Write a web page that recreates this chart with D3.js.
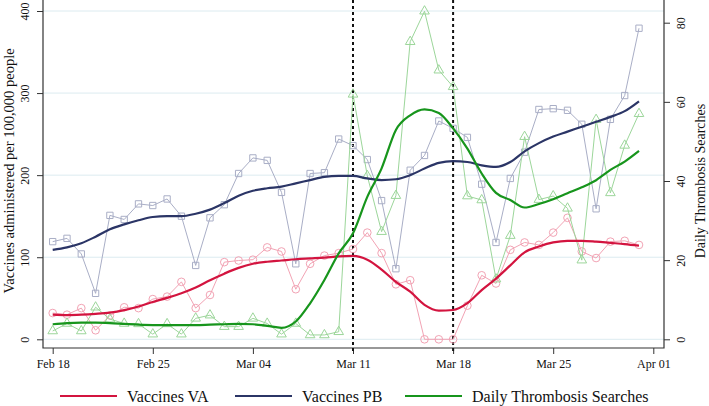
<!DOCTYPE html>
<html>
<head>
<meta charset="utf-8">
<script src="https://cdn.jsdelivr.net/npm/d3@7"></script>
<style>
  body { margin: 0; background: #fff; }
  svg { font-family: "Liberation Serif", "DejaVu Serif", serif; }
</style>
</head>
<body>
<div class="chart"></div>
<script>
// daily observations, Feb 18 .. Mar 31 2021
const days = d3.timeDay.range(new Date(2021, 1, 18), new Date(2021, 3, 1));

const vaccinesVA = [32, 30, 38, 11, 29, 39, 38, 49, 52, 70, 38, 54, 94, 96,
  97, 112, 107, 61, 92, 102, 105, 110, 130, 105, 67, 72, 0, 0,
  0, 41, 78, 68, 109, 118, 115, 130, 148, 107, 99, 119, 120, 115];
const vaccinesPB = [119, 123, 104, 56, 151, 146, 165, 163, 171, 150, 90, 148, 164, 202,
  221, 218, 179, 92, 202, 203, 244, 236, 219, 169, 86, 206, 224, 266,
  257, 246, 189, 118, 196, 228, 280, 281, 279, 262, 159, 268, 297, 379];
const searches = [2.1, 4.0, 2.1, 8.1, 5.1, 4.0, 3.9, 1.3, 3.9, 1.3, 5.3, 6.1, 3.2, 3.2,
  5.3, 4.0, 1.3, 4.0, 1.1, 1.1, 1.9, 61.9, 41.3, 27.2, 36.3, 75.2, 82.9, 68,
  63.8, 36.2, 35.2, 15.2, 26.2, 51.2, 35.3, 36.2, 33.1, 20, 55.5, 37, 49, 57];

// smoothed trends
const smoothVA = [30, 29.5, 30, 31, 32.5, 35.5, 40, 45.5, 50.5, 56, 63, 72, 80, 87,
  92, 94.5, 96, 97.5, 98.5, 99.5, 101, 101.6, 97, 85, 70, 58, 42, 35,
  35.7, 44, 60, 74, 90, 106, 113, 118, 120, 120, 119, 117.5, 116, 114];
const smoothPB = [109, 112, 117, 125, 134, 140, 145, 149, 150, 150, 153, 158, 166, 175,
  181, 184, 186, 190, 194, 198, 199, 199, 196, 194, 195, 200, 208, 215,
  217, 216, 212, 210, 216, 229, 239, 247, 253, 259, 265, 271, 278, 290];
const smoothSearch = [3.8, 4.1, 4.2, 4.2, 4.1, 3.9, 3.7, 3.6, 3.6, 3.6, 3.6, 3.7, 3.8, 3.9,
  3.8, 3.4, 2.9, 4.5, 9.1, 15, 21.7, 26.8, 36, 43.2, 52.9, 56.6, 58.1, 57.2,
  53.3, 48.2, 41.9, 37, 35.2, 33.3, 34.2, 35.4, 36.9, 38.4, 40.2, 42.8, 44.9, 47.6];

const events = [new Date(2021, 2, 11), new Date(2021, 2, 18)];
const leftTicks = [0, 100, 200, 300, 400];
const rightTicks = [0, 20, 40, 60, 80];
const xTicks = [new Date(2021, 1, 18), new Date(2021, 1, 25), new Date(2021, 2, 4),
  new Date(2021, 2, 11), new Date(2021, 2, 18), new Date(2021, 2, 25), new Date(2021, 3, 1)];

const legendItems = [
  {name: "Vaccines VA", color: "#d3143f"},
  {name: "Vaccines PB", color: "#2b3566"},
  {name: "Daily Thrombosis Searches", color: "#17951c"}
];

const W = 709, H = 406;
const frame = {l: 43, r: 664, t: 0, b: 348};

const svg = d3.select(".chart").append("svg")
  .attr("width", W).attr("height", H);

const x = d3.scaleTime().domain([xTicks[0], xTicks[6]]).range([52.7, 653.3]);
const yL = d3.scaleLinear().domain([0, 400]).range([339.3, 11]);
const yR = d3.scaleLinear().domain([0, 80]).range([339.3, 22.7]);

// grid
svg.append("g").selectAll("line").data(leftTicks).join("line")
  .attr("x1", frame.l).attr("x2", frame.r)
  .attr("y1", d => yL(d)).attr("y2", d => yL(d))
  .attr("stroke", "#dcebf0").attr("stroke-width", 1);

// axes
const axL = svg.append("g").attr("transform", `translate(${frame.l},0)`)
  .call(d3.axisLeft(yL).tickValues(leftTicks).tickSize(6).tickPadding(4));
const axR = svg.append("g").attr("transform", `translate(${frame.r},0)`)
  .call(d3.axisRight(yR).tickValues(rightTicks).tickSize(6).tickPadding(4));
const axB = svg.append("g").attr("transform", `translate(0,${frame.b})`)
  .call(d3.axisBottom(x).tickValues(xTicks).tickSize(6).tickPadding(5)
    .tickFormat(d3.timeFormat("%b %d")));

[axL, axR, axB].forEach(a => {
  a.select(".domain").remove();
  a.selectAll(".tick line").attr("stroke", "#333");
  a.selectAll("text").attr("font-family", "Liberation Serif").attr("font-size", 12).attr("fill", "#111");
});
axL.selectAll(".tick text").attr("transform", "rotate(-90)")
  .attr("x", 0).attr("y", -14).attr("dy", 0).attr("text-anchor", "middle");
axR.selectAll(".tick text").attr("transform", "rotate(-90)")
  .attr("x", 0).attr("y", 21).attr("dy", 0).attr("text-anchor", "middle");

// frame lines
svg.append("path")
  .attr("d", `M${frame.l},${frame.t}V${frame.b}H${frame.r}V${frame.t}`)
  .attr("fill", "none").attr("stroke", "#333").attr("stroke-width", 1.2);

// event markers
svg.append("g").selectAll("line").data(events).join("line")
  .attr("x1", d => x(d)).attr("x2", d => x(d))
  .attr("y1", 0).attr("y2", frame.b + 6)
  .attr("stroke", "#111").attr("stroke-width", 2).attr("stroke-dasharray", "3,3");

function raw(values, y, color, shape){
  const g = svg.append("g");
  g.append("path").datum(values)
    .attr("d", d3.line().x((d, i) => x(days[i])).y(d => y(d)))
    .attr("fill", "none").attr("stroke", color).attr("stroke-width", 1);
  g.selectAll("path.m").data(values).join("path").attr("class", "m")
    .attr("transform", (d, i) => `translate(${x(days[i])},${y(d)})`)
    .attr("d", d3.symbol().type(shape).size(shape === d3.symbolCircle ? 46 : 40))
    .attr("fill", "none").attr("stroke", color).attr("stroke-width", 1);
}

raw(vaccinesPB, yL, "#a9aec6", d3.symbolSquare);
raw(vaccinesVA, yL, "#f2a3b4", d3.symbolCircle);
raw(searches, yR, "#9cd69a", d3.symbolTriangle);

function trend(values, y, color){
  svg.append("path").datum(values)
    .attr("d", d3.line().x((d, i) => x(days[i])).y(d => y(d)).curve(d3.curveMonotoneX))
    .attr("fill", "none").attr("stroke", color).attr("stroke-width", 2.2)
    .attr("stroke-linejoin", "round");
}
trend(smoothPB, yL, legendItems[1].color);
trend(smoothVA, yL, legendItems[0].color);
trend(smoothSearch, yR, legendItems[2].color);

// axis titles
svg.append("text").attr("transform", `translate(14,171) rotate(-90)`)
  .attr("text-anchor", "middle").attr("font-size", 14.5).attr("fill", "#111")
  .text("Vaccines administered per 100,000 people");
svg.append("text").attr("transform", `translate(705,181) rotate(-90)`)
  .attr("text-anchor", "middle").attr("font-size", 14).attr("fill", "#111")
  .text("Daily Thrombosis Searches");

// legend
const legX = [60, 235, 405];
const leg = svg.append("g").selectAll("g").data(legendItems).join("g")
  .attr("transform", (d, i) => `translate(${legX[i]},396)`);
leg.append("line").attr("x1", 0).attr("x2", 57).attr("y1", 0).attr("y2", 0)
  .attr("stroke", d => d.color).attr("stroke-width", 2);
leg.append("text").attr("x", 67).attr("y", 5.5).attr("font-size", 16).attr("fill", "#111")
  .text(d => d.name);
</script>
</body>
</html>
